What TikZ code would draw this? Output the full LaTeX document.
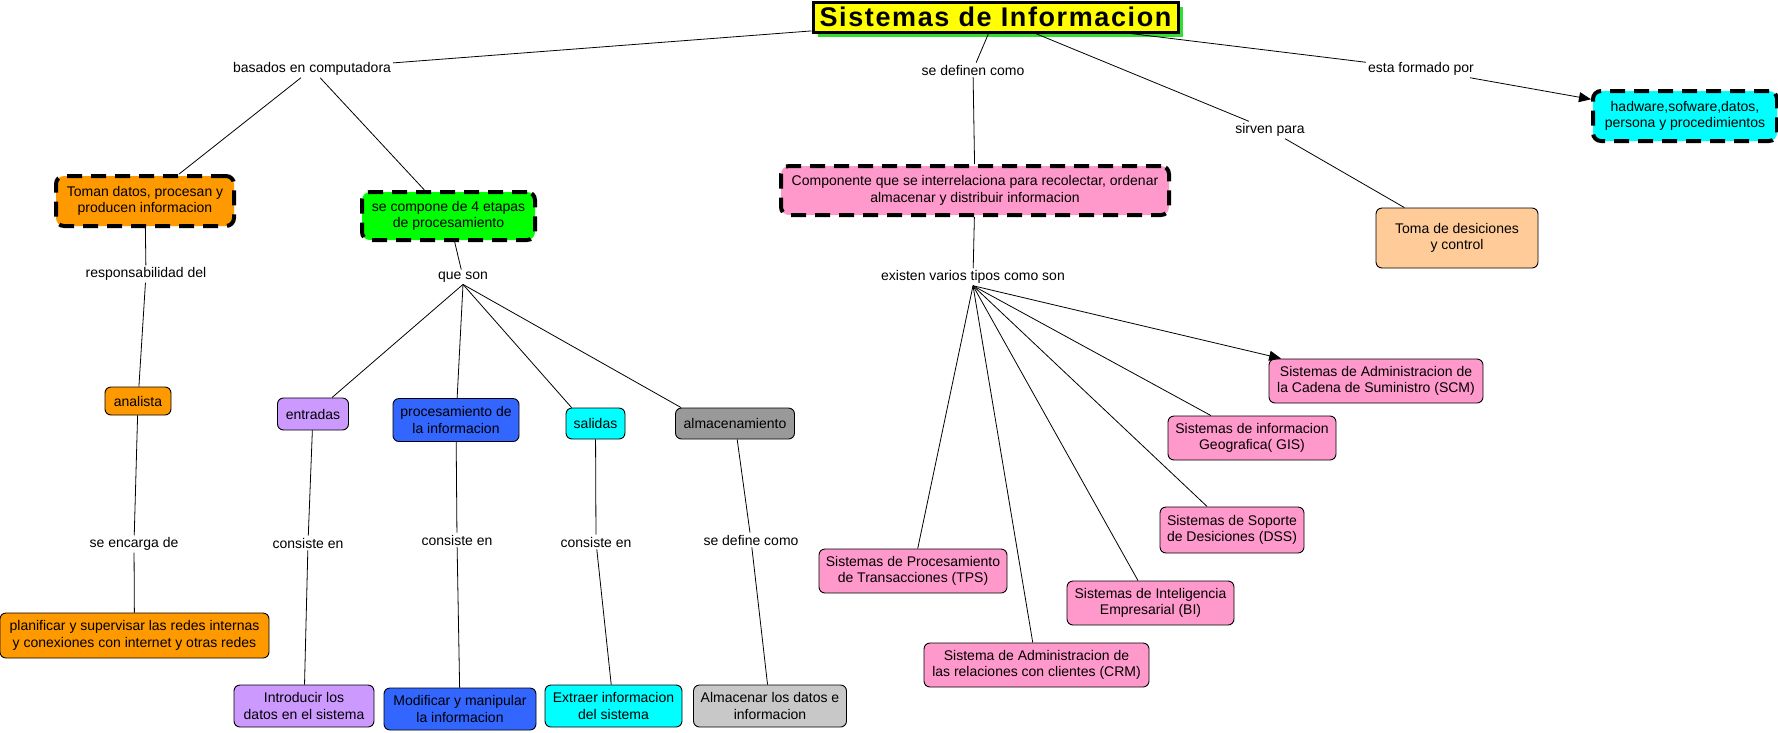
\documentclass[tikz,border=0pt]{standalone}
\usepackage{fontspec}
\setmainfont{Liberation Sans}
\usetikzlibrary{arrows.meta,shadows}
\definecolor{corange}{HTML}{FF9900}
\definecolor{cgreen}{HTML}{00FF00}
\definecolor{cpink}{HTML}{FF99CC}
\definecolor{ccyan}{HTML}{00FFFF}
\definecolor{cpeach}{HTML}{FFCC99}
\definecolor{cpurple}{HTML}{CC99FF}
\definecolor{cblue}{HTML}{3366FF}
\definecolor{cgray}{HTML}{999999}
\definecolor{clgray}{HTML}{C8C8C8}
\definecolor{cyellow}{HTML}{FFFF00}
\definecolor{cshadow}{HTML}{33DD33}
\begin{document}
\begin{tikzpicture}[x=1pt,y=-1pt,
  every node/.style={font=\fontsize{14}{16.5}\selectfont},
  cn/.style={draw=black, line width=0.9pt, rounded corners=6pt, align=center, inner sep=0pt},
  dn/.style={draw=black, line width=4pt, dash pattern=on 15pt off 9pt, rounded corners=8pt, align=center, inner sep=0pt},
  lbl/.style={inner sep=2pt, align=center},
  ln/.style={draw=black, line width=0.8pt},
  arr/.style={ln, -{Triangle[length=12pt,width=10pt]}},
]
\useasboundingbox (0,0) rectangle (1778,732);

% title
\node[draw=black, line width=3pt, fill=cyellow, minimum width=365pt, minimum height=30pt, inner sep=0pt,
  drop shadow={shadow xshift=5pt, shadow yshift=-5pt, fill=cshadow, opacity=1},
  font=\fontsize{27}{30}\selectfont\bfseries\addfontfeature{LetterSpace=6}] (title) at (995.5,17) {Sistemas de Informacion};

% concept nodes
\node[dn, fill=ccyan, minimum width=184pt, minimum height=50pt] (hw) at (1685,116) {hadware,sofware,datos,\\persona y procedimientos};
\node[cn, fill=cpeach, minimum width=162pt, minimum height=60pt] (toma) at (1457,238) {Toma de desiciones\\y control};
\node[dn, fill=corange, minimum width=178pt, minimum height=50pt] (toman) at (145,201) {Toman datos, procesan y\\producen informacion};
\node[dn, fill=cgreen, minimum width=173pt, minimum height=48pt] (comp4) at (448.5,216) {se compone de 4 etapas\\de procesamiento};
\node[dn, fill=cpink, minimum width=388pt, minimum height=49pt] (compo) at (975,190.5) {Componente que se interrelaciona para recolectar, ordenar\\almacenar y distribuir informacion};

\node[cn, fill=corange, minimum width=66pt, minimum height=28pt] (analista) at (138,401) {analista};
\node[cn, fill=corange, minimum width=269pt, minimum height=45pt] (plan) at (134.5,635.5) {planificar y supervisar las redes internas\\y conexiones con internet y otras redes};

\node[cn, fill=cpurple, minimum width=71pt, minimum height=32pt] (ent) at (313,414) {entradas};
\node[cn, fill=cblue, minimum width=126pt, minimum height=43pt] (proc) at (456,420) {procesamiento de\\la informacion};
\node[cn, fill=ccyan, minimum width=59pt, minimum height=31pt] (sal) at (595.5,423.5) {salidas};
\node[cn, fill=cgray, minimum width=119pt, minimum height=31pt] (alm) at (735,423.5) {almacenamiento};

\node[cn, fill=cpurple, minimum width=140pt, minimum height=42pt] (intro) at (304,706) {Introducir los\\datos en el sistema};
\node[cn, fill=cblue, minimum width=152pt, minimum height=42pt] (modif) at (460,709) {Modificar y manipular\\la informacion};
\node[cn, fill=ccyan, minimum width=137pt, minimum height=42pt] (extr) at (613.5,706) {Extraer informacion\\del sistema};
\node[cn, fill=clgray, minimum width=153pt, minimum height=42pt] (almc) at (770,706) {Almacenar los datos e\\informacion};

\node[cn, fill=cpink, minimum width=214pt, minimum height=44pt] (scm) at (1376,381) {Sistemas de Administracion de\\la Cadena de Suministro (SCM)};
\node[cn, fill=cpink, minimum width=168pt, minimum height=44pt] (gis) at (1252,438) {Sistemas de informacion\\Geografica( GIS)};
\node[cn, fill=cpink, minimum width=144pt, minimum height=46pt] (dss) at (1232,530) {Sistemas de Soporte\\de Desiciones (DSS)};
\node[cn, fill=cpink, minimum width=188pt, minimum height=44pt] (tps) at (913,571) {Sistemas de Procesamiento\\de Transacciones (TPS)};
\node[cn, fill=cpink, minimum width=167pt, minimum height=44pt] (bi) at (1150.5,603) {Sistemas de Inteligencia\\Empresarial (BI)};
\node[cn, fill=cpink, minimum width=225pt, minimum height=44pt] (crm) at (1036.5,665) {Sistema de Administracion de\\las relaciones con clientes (CRM)};

% link labels
\node[lbl] (basados) at (312,69) {basados en computadora};
\node[lbl] (definen) at (973,70) {se definen como};
\node[lbl] (formado) at (1421,69) {esta formado por};
\node[lbl] (sirven) at (1270,130) {sirven para};
\node[lbl] (resp) at (146,274) {responsabilidad del};
\node[lbl] (queson) at (463,277) {que son};
\node[lbl] (existen) at (973,277) {existen varios tipos como son};
\node[lbl] (encarga) at (134,544) {se encarga de};
\node[lbl] (cons1) at (308,543) {consiste en};
\node[lbl] (cons2) at (457,540) {consiste en};
\node[lbl] (cons3) at (596,542) {consiste en};
\node[lbl] (define) at (751,540) {se define como};

% connectors
\draw[ln] (title) -- (basados);
\draw[ln] (basados) -- (toman);
\draw[ln] (basados) -- (comp4);
\draw[ln] (title) -- (definen);
\draw[ln] (definen) -- (compo);
\draw[ln] (title) -- (sirven);
\draw[ln] (sirven) -- (toma);
\draw[ln] (title) -- (formado);
\draw[arr] (formado) -- (hw);

\draw[ln] (toman) -- (resp);
\draw[ln] (resp) -- (analista);
\draw[ln] (analista) -- (encarga);
\draw[ln] (encarga) -- (plan);

\draw[ln] (comp4) -- (queson);
\draw[ln] (queson.south) -- (ent);
\draw[ln] (queson.south) -- (proc);
\draw[ln] (queson.south) -- ([xshift=6pt]sal.north west);
\draw[ln] (queson.south) -- ([xshift=6pt]alm.north west);

\draw[ln] (ent) -- (cons1);
\draw[ln] (cons1) -- (intro);
\draw[ln] (proc) -- (cons2);
\draw[ln] (cons2) -- (modif);
\draw[ln] (sal) -- (cons3);
\draw[ln] (cons3) -- (extr);
\draw[ln] (alm) -- (define);
\draw[ln] (define) -- (almc);

\draw[ln] (compo) -- (existen);
\draw[ln] (existen.south) -- (tps);
\draw[ln] (existen.south) -- (crm);
\draw[ln] (existen.south) -- (bi);
\draw[ln] (existen.south) -- (dss);
\draw[ln] (existen.south) -- (gis);
\draw[arr] (existen.south) -- (scm);
\end{tikzpicture}
\end{document}
